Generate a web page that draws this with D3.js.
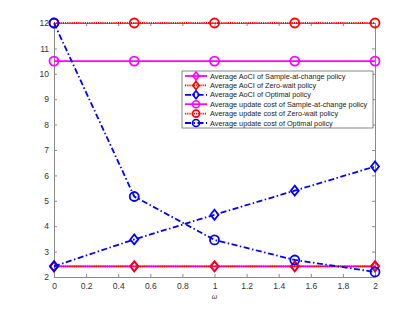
<!DOCTYPE html>
<html>
<head>
<meta charset="utf-8">
<script src="https://cdn.jsdelivr.net/npm/d3@7"></script>
<style>
body{margin:0;background:#fff;}
text{font-family:"Liberation Sans",Arial,sans-serif;}
</style>
</head>
<body>
<div id="chart"></div>
<script>
const omega = [0, 0.5, 1, 1.5, 2];
const aociSample = [2.42, 2.42, 2.42, 2.42, 2.42];
const aociZero = [2.42, 2.42, 2.42, 2.42, 2.42];
const aociOptimal = [2.42, 3.48, 4.45, 5.4, 6.35];
const costSample = [10.5, 10.5, 10.5, 10.5, 10.5];
const costZero = [12, 12, 12, 12, 12];
const costOptimal = [12, 5.17, 3.46, 2.67, 2.2];
const xTicks = [0, 0.2, 0.4, 0.6, 0.8, 1, 1.2, 1.4, 1.6, 1.8, 2];
const yTicks = [2, 3, 4, 5, 6, 7, 8, 9, 10, 11, 12];

const series = [
  {name:"Average AoCI of Sample-at-change policy", values:aociSample, color:"#ff00ff", dash:null, marker:"diamond"},
  {name:"Average AoCI of Zero-wait policy", values:aociZero, color:"#ff0000", dash:"1.2,1", marker:"diamond"},
  {name:"Average AoCI of Optimal policy", values:aociOptimal, color:"#0000ff", dash:"6,2.5,1.5,2.5", marker:"diamond"},
  {name:"Average update cost of Sample-at-change policy", values:costSample, color:"#ff00ff", dash:null, marker:"circle"},
  {name:"Average update cost of Zero-wait policy", values:costZero, color:"#ff0000", dash:"1.2,1", marker:"circle"},
  {name:"Average update cost of Optimal policy", values:costOptimal, color:"#0000ff", dash:"6,2.5,1.5,2.5", marker:"circle"}
];

const width = 415, height = 312;
const margin = {left:54, right:40, top:23, bottom:35};

let svg = d3.select("#chart").append("svg")
            .attr("width",width)
            .attr("height",height);

let xScale = d3.scaleLinear().domain([0,2]).range([margin.left,width-margin.right]);
let yScale = d3.scaleLinear().domain([2,12]).range([height-margin.bottom,margin.top]);

const axisColor = "#8a8a8a";
const textColor = "#333";

// axes with inward ticks
function styleAxis(g){
  g.select(".domain").attr("stroke",axisColor);
  g.selectAll(".tick line").attr("stroke",axisColor);
  g.selectAll(".tick text").attr("fill",textColor).attr("font-size","8.5px");
}

svg.append("g")
   .attr("transform",`translate(0,${height-margin.bottom})`)
   .call(d3.axisBottom(xScale).tickValues(xTicks).tickSizeInner(-3).tickSizeOuter(0).tickPadding(6).tickFormat(d3.format("")))
   .call(styleAxis);
svg.append("g")
   .attr("transform",`translate(0,${margin.top})`)
   .call(d3.axisTop(xScale).tickValues(xTicks).tickSizeInner(-3).tickSizeOuter(0).tickFormat(""))
   .call(styleAxis);
svg.append("g")
   .attr("transform",`translate(${margin.left},0)`)
   .call(d3.axisLeft(yScale).tickValues(yTicks).tickSizeInner(-3).tickSizeOuter(0).tickPadding(5))
   .call(styleAxis);
svg.append("g")
   .attr("transform",`translate(${width-margin.right},0)`)
   .call(d3.axisRight(yScale).tickValues(yTicks).tickSizeInner(-3).tickSizeOuter(0).tickFormat(""))
   .call(styleAxis);

svg.append("text")
   .attr("x",xScale(1)).attr("y",height-13)
   .attr("text-anchor","middle")
   .attr("font-size","7px").attr("font-style","italic").attr("fill",textColor)
   .text("ω");

function drawMarker(g,type,x,y,color){
  if(type==="circle"){
    g.append("circle").attr("cx",x).attr("cy",y).attr("r",4.5)
     .attr("fill","none").attr("stroke",color).attr("stroke-width",1.8);
  } else {
    const s = 5;
    g.append("path").attr("d",`M${x},${y-s}L${x+s*0.8},${y}L${x},${y+s}L${x-s*0.8},${y}Z`)
     .attr("fill","none").attr("stroke",color).attr("stroke-width",1.8);
  }
}

let line = d3.line()
   .x((d,i) => xScale(omega[i]))
   .y(d => yScale(d));

let plot = svg.append("g");
series.forEach(s => {
  plot.append("path")
      .attr("d",line(s.values))
      .attr("fill","none")
      .attr("stroke",s.color)
      .attr("stroke-width",1.8)
      .attr("stroke-dasharray",s.dash);
  s.values.forEach((v,i) => drawMarker(plot,s.marker,xScale(omega[i]),yScale(v),s.color));
});

// legend
let lg = svg.append("g").attr("transform","translate(182,71)");
lg.append("rect").attr("x",0).attr("y",0).attr("width",191).attr("height",57)
  .attr("fill","#fff").attr("stroke","#555").attr("stroke-width",0.7);
series.forEach((s,i) => {
  const y = 5 + i*9.4;
  lg.append("line").attr("x1",3).attr("x2",25).attr("y1",y).attr("y2",y)
    .attr("stroke",s.color).attr("stroke-width",1.8).attr("stroke-dasharray",s.dash);
  if(s.marker==="circle"){
    lg.append("circle").attr("cx",14).attr("cy",y).attr("r",3.5)
      .attr("fill","none").attr("stroke",s.color).attr("stroke-width",1.6);
  } else {
    lg.append("path").attr("d",`M14,${y-4}L17.2,${y}L14,${y+4}L10.8,${y}Z`)
      .attr("fill","none").attr("stroke",s.color).attr("stroke-width",1.6);
  }
  lg.append("text").attr("x",28).attr("y",y+2.5)
    .attr("font-size","7.3px").attr("fill","#222").text(s.name);
});
</script>
</body>
</html>
